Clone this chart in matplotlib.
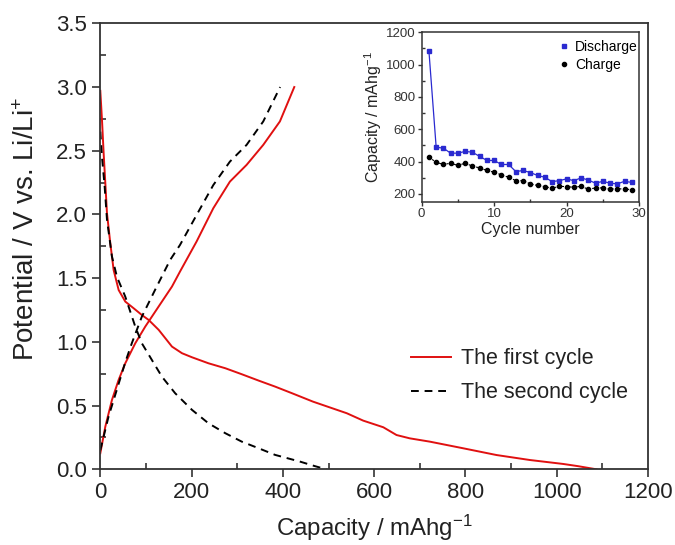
import matplotlib
matplotlib.use("Agg")
import matplotlib.pyplot as plt
from matplotlib.ticker import MultipleLocator
from matplotlib.lines import Line2D

plt.rcParams['font.family'] = ['Liberation Sans', 'DejaVu Sans']
plt.rcParams['mathtext.fontset'] = 'custom'
plt.rcParams['mathtext.rm'] = 'Liberation Sans'
plt.rcParams['mathtext.default'] = 'regular'

# first cycle (red)
first_dis_x = [0, 3.7, 7.3, 11, 14.6, 21.9, 29.2, 40.2, 54.8, 73, 91, 106, 128, 157, 179, 201,
               237, 274, 310, 347, 383, 420, 466, 540, 576, 620, 649, 678, 722, 795, 868, 941,
               1014, 1046, 1087]
first_dis_y = [2.97, 2.74, 2.48, 2.245, 2.01, 1.774, 1.564, 1.407, 1.316, 1.264, 1.211, 1.172,
               1.094, 0.963, 0.911, 0.879, 0.832, 0.793, 0.746, 0.696, 0.649, 0.597, 0.531, 0.44,
               0.382, 0.33, 0.269, 0.243, 0.217, 0.165, 0.112, 0.073, 0.042, 0.025, 0.0]
first_chg_x = [0, 11, 25.5, 40, 54.7, 76.6, 98.5, 127.7, 157, 174.5, 211, 247.6, 284, 320.5,
               357, 393.5, 425]
first_chg_y = [0.126, 0.335, 0.544, 0.70, 0.832, 0.989, 1.12, 1.277, 1.434, 1.551, 1.788, 2.049,
               2.258, 2.389, 2.546, 2.73, 3.0]

# second cycle (black dashed)
second_dis_x = [0, 3.7, 9.5, 14.6, 25.5, 36.5, 54.7, 76.6, 91, 113, 135, 164, 201, 237, 274,
                310, 347, 383, 437, 470, 495]
second_dis_y = [2.65, 2.45, 2.22, 1.96, 1.67, 1.51, 1.355, 1.12, 0.989, 0.858, 0.727, 0.597,
                0.466, 0.361, 0.283, 0.217, 0.165, 0.113, 0.061, 0.025, 0.0]
second_chg_x = [0, 18, 54.7, 69, 91, 120, 153, 174.5, 211, 247.6, 284, 320.5, 357, 394]
second_chg_y = [0.15, 0.413, 0.84, 0.989, 1.198, 1.408, 1.643, 1.76, 1.996, 2.231, 2.415,
                2.546, 2.73, 3.0]

# inset: capacity vs cycle number
cycles = list(range(1, 30))
discharge_cap = [1085, 489, 483, 452, 452, 463, 458, 432, 407, 407, 382, 382, 338, 345, 332,
                 314, 303, 276, 282, 293, 282, 299, 286, 266, 278, 266, 262, 278, 271]
charge_cap = [427, 396, 382, 390, 376, 390, 372, 361, 345, 334, 318, 303, 282, 282, 262, 252,
              245, 235, 247, 245, 241, 247, 229, 237, 237, 229, 233, 229, 227]

spine_col = '#333333'
fig = plt.figure(figsize=(6.75, 5.45), dpi=100)
ax = fig.add_axes([0.1486, 0.1389, 0.8114, 0.8183])

ax.plot(first_dis_x, first_dis_y, color='#e01010', lw=1.4, label='The first cycle')
ax.plot(first_chg_x, first_chg_y, color='#e01010', lw=1.4)
ax.plot(second_dis_x, second_dis_y, color='black', lw=1.4, ls=(0, (4, 3)), label='The second cycle')
ax.plot(second_chg_x, second_chg_y, color='black', lw=1.4, ls=(0, (4, 3)))

ax.set_xlim(0, 1200)
ax.set_ylim(0, 3.5)
ax.xaxis.set_major_locator(MultipleLocator(200))
ax.xaxis.set_minor_locator(MultipleLocator(100))
ax.yaxis.set_major_locator(MultipleLocator(0.5))
ax.yaxis.set_minor_locator(MultipleLocator(0.25))
ax.yaxis.set_major_formatter(plt.FormatStrFormatter('%.1f'))
ax.tick_params(which='major', direction='out', length=6, width=1.2, colors=spine_col,
               labelsize=16, labelcolor='#222222')
ax.tick_params(which='minor', direction='in', length=4, width=1.2, colors=spine_col)
for s in ax.spines.values():
    s.set_color(spine_col)
    s.set_linewidth(1.3)

ax.set_xlabel('Capacity / mAhg$^{-1}$', fontsize=17.3, color='#222222')
ax.set_ylabel('Potential / V vs. Li/Li$^{+}$', fontsize=20, color='#222222')
ax.xaxis.set_label_coords(0.5, -0.097)
ax.yaxis.set_label_coords(-0.11, 0.54)

ax.legend(loc='upper left', bbox_to_anchor=(0.531, 0.315), frameon=False, fontsize=15.5,
          handlelength=1.9, handletextpad=0.45, labelspacing=0.6, labelcolor='#222222')

# inset
ins = fig.add_axes([0.6247, 0.6294, 0.322, 0.3113])
ins.plot(cycles, discharge_cap, color='#2a2ad0', lw=0.9, marker='s', ms=3.2, label='Discharge')
ins.plot(cycles, charge_cap, color='black', lw=0.8, ls=(0, (2, 1.5)), marker='o', ms=3.0,
         label='Charge')
ins.set_xlim(0, 30)
ins.set_ylim(150, 1200)
ins.xaxis.set_major_locator(MultipleLocator(10))
ins.xaxis.set_minor_locator(MultipleLocator(5))
ins.yaxis.set_major_locator(MultipleLocator(200))
ins.yaxis.set_minor_locator(MultipleLocator(100))
ins.tick_params(which='major', direction='out', length=3, width=1, colors=spine_col,
                labelsize=9.5, labelcolor='#333333', pad=1.5)
ins.tick_params(which='minor', direction='in', length=2, width=1, colors=spine_col)
for s in ins.spines.values():
    s.set_color(spine_col)
    s.set_linewidth(1.1)
ins.set_xlabel('Cycle number', fontsize=11.5, color='#222222', labelpad=1)
ins.set_ylabel('Capacity / mAhg$^{-1}$', fontsize=11.5, color='#222222', labelpad=1)

labels = ['Discharge', 'Charge']
hd = [Line2D([], [], color='#2a2ad0', marker='s', ms=3.2, ls='none'),
      Line2D([], [], color='black', marker='o', ms=3.0, ls='none')]
ins.legend(hd, labels, loc='upper right', bbox_to_anchor=(1.02, 0.99), frameon=False,
           fontsize=10, handlelength=0.8, handletextpad=0.4, labelspacing=0.3,
           borderaxespad=0.0)

fig.savefig('out.png', dpi=100)
